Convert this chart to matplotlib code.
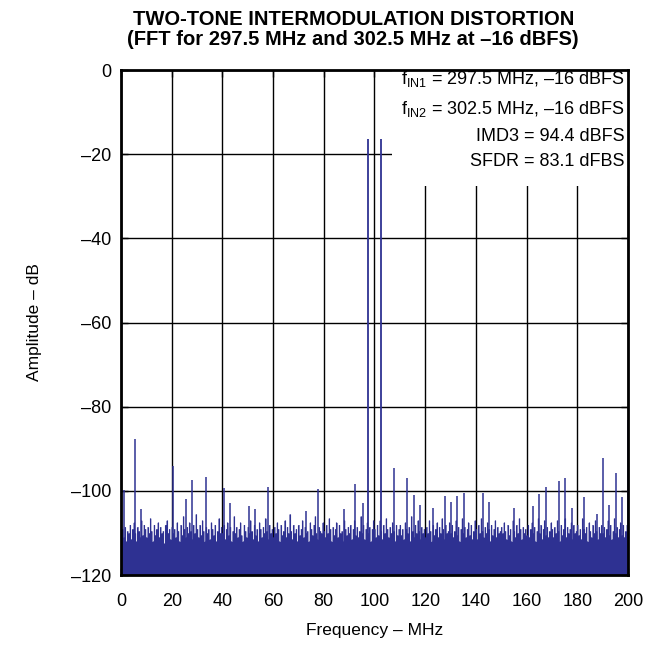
import numpy as np
import matplotlib.pyplot as plt
from matplotlib.patches import Rectangle

plt.rcParams['font.family'] = ['Liberation Sans', 'DejaVu Sans']
plt.rcParams['mathtext.fontset'] = 'custom'
plt.rcParams['mathtext.rm'] = 'Liberation Sans'

# FFT noise floor, one value per 0.5 MHz bin (dB)
noise_db = [
    -110.5, -109, -111, -108.5, -112, -109.5, -110, -108, -111.5, -109, -107.5, -110, -112, -108.5, -109.5, -111, -107, -110.5, -108, -109,
    -111, -108.5, -110, -106.5, -109.5, -112, -108, -110.5, -109, -107.5, -111, -108.5, -110, -109.5, -112.5, -108, -107, -110, -109, -111.5,
    -108.5, -110, -109, -111, -107.5, -109.5, -112, -108, -110.5, -106, -109, -111, -108.5, -110, -107.5, -109.5, -111.5, -108, -110, -105.5,
    -109, -111, -108, -110.5, -107, -109.5, -112, -108.5, -110, -109, -111.5, -107.5, -109, -110.5, -108, -112, -109.5, -106.5, -110, -108.5,
    -110, -108, -111.5, -109, -107.5, -110.5, -108.5, -112, -109.5, -106, -110, -108.5, -111, -109, -107.5, -110.5, -112, -108, -109.5, -111,
    -108.5, -110, -107, -109.5, -111.5, -108, -110.5, -109, -112, -107.5, -109, -111, -108.5, -110, -106.5, -109.5, -111.5, -108, -110, -109,
    -111, -108.5, -110, -107.5, -109, -112, -108, -110.5, -109.5, -107, -111, -108.5, -110, -105.5, -109.5, -111.5, -108, -110, -109, -112,
    -108, -110.5, -109, -107, -111, -108.5, -110, -109.5, -112, -107.5, -109, -110.5, -108, -106, -110, -111.5, -108.5, -109.5, -110, -107.5,
    -109.5, -111, -108, -110, -106.5, -109, -112, -108.5, -110.5, -109, -107.5, -111, -108, -110, -109.5, -112, -107, -109, -110.5, -108.5,
    -110, -108, -111.5, -109, -107, -110.5, -108.5, -111, -109.5, -106, -110, -108, -111.5, -109, -107.5, -110, -108.5, -112, -109, -107,
    -109, -111, -108, -110.5, -107, -109.5, -111.5, -108, -110, -106.5, -109, -111, -108.5, -110, -107.5, -109.5, -112, -108, -110.5, -109,
    -108, -110.5, -109, -111.5, -107.5, -109, -110, -108.5, -112, -106, -109.5, -111, -108, -110, -107, -109.5, -111.5, -108.5, -110, -109,
    -111, -108.5, -110, -107, -109.5, -112, -108, -110.5, -109, -107.5, -111, -108.5, -110, -106.5, -109, -111.5, -108, -110, -109.5, -107.5,
    -110, -108, -111, -109.5, -107, -110.5, -108.5, -112, -109, -106.5, -110, -108.5, -111, -109, -107.5, -110.5, -108, -111.5, -109.5, -107,
    -109, -111.5, -108, -110, -106.5, -109.5, -111, -108.5, -110, -107.5, -109, -112, -108, -110.5, -109, -107, -111, -108.5, -110, -109.5,
    -108.5, -110, -107.5, -109.5, -111.5, -108, -110.5, -109, -112, -107, -109.5, -111, -108, -110, -106.5, -109, -111.5, -108.5, -110, -109,
    -110.5, -108, -111, -109, -107.5, -110, -108.5, -112, -109.5, -106.5, -110, -108, -111.5, -109, -107, -110.5, -108.5, -111, -109.5, -107.5,
    -109, -111, -108.5, -110, -107, -109.5, -112, -108, -110.5, -109, -106.5, -111, -108.5, -110, -109, -107.5, -111.5, -108, -110, -109.5,
    -108, -110.5, -109, -111.5, -106.5, -109, -110, -108.5, -112, -107.5, -109.5, -111, -108, -110, -107, -109.5, -111.5, -108.5, -110, -108,
    -110, -108.5, -111, -109, -107, -110.5, -108, -111.5, -109.5, -106.5, -110, -108.5, -111, -109, -107.5, -110.5, -108, -111, -109.5, -108,
]
noise_freq = np.arange(len(noise_db)) * 0.5

# spurs and harmonics (MHz, dB)
spur_freq = [1.2, 5.5, 8, 20.5, 25.6, 28, 33.4, 40.6, 43, 50.5, 53, 57.9, 72.9, 77.8,
             88.1, 92.5, 95.5, 107.5, 112.8, 115.6, 118, 123, 127.7, 130.3, 132.7,
             135.2, 142.7, 145.2, 154.9, 162.6, 165, 167.7, 172.8, 175.1, 177.8,
             182.5, 187.8, 190, 192.5, 195.1, 197.5, 200]
spur_db = [-99.8, -87.7, -104.3, -94.1, -101.9, -97.4, -96.7, -99.3, -103, -103.5,
           -104.3, -99.1, -104.8, -99.5, -104.3, -98.3, -102.9, -94.6, -97, -101,
           -103.4, -104, -101.2, -102.6, -101.2, -100.5, -100.5, -102.6, -104,
           -103.5, -100.8, -99.1, -97.6, -97, -104, -101.4, -105.5, -92.1, -103.4,
           -95.8, -101.4, -83.2]

# the two input tones (aliased)
tone_freq = [97.5, 102.5]
tone_db = [-16.5, -16.5]

info_lines = [
    r'f$_{\mathregular{IN1}}$ = 297.5 MHz, –16 dBFS',
    r'f$_{\mathregular{IN2}}$ = 302.5 MHz, –16 dBFS',
    'IMD3 = 94.4 dBFS',
    'SFDR = 83.1 dFBS',
]

color = '#2E3192'

fig = plt.figure(figsize=(6.53, 6.46), dpi=100)
ax = fig.add_axes([0.1853, 0.1099, 0.7764, 0.7817])

ax.fill_between(noise_freq, -120, noise_db, step='mid', color=color, lw=0, zorder=2)
ax.vlines(noise_freq, -120, noise_db, color=color, lw=0.8, zorder=2)
ax.vlines(spur_freq, -120, spur_db, color=color, lw=1.1, zorder=2)
ax.vlines(tone_freq, -120, tone_db, color=color, lw=1.3, zorder=2)

ax.set_xlim(0, 200)
ax.set_ylim(-120, 0)
ax.set_xticks(range(0, 201, 20))
ax.set_yticks(range(-120, 1, 20))
ax.set_yticklabels([str(v).replace('-', '–') for v in range(-120, 1, 20)])
ax.grid(True, color='black', lw=1.0, zorder=1)
ax.set_axisbelow(True)
ax.tick_params(direction='in', top=True, right=True, length=5, width=1.0,
               labelsize=13, pad=7, colors='black')
ax.tick_params(axis='x', pad=13)
for s in ax.spines.values():
    s.set_linewidth(2.0)
    s.set_zorder(5)

# white panel behind the annotation
ax.add_patch(Rectangle((0.535, 0.77), 0.465, 0.23, transform=ax.transAxes,
                       facecolor='white', edgecolor='none', zorder=1.5))
ypos = [0.972, 0.913, 0.859, 0.810]
for t, y in zip(info_lines, ypos):
    ax.text(0.994, y, t, transform=ax.transAxes, ha='right', va='baseline',
            fontsize=13, zorder=3)

ax.set_xlabel('Frequency – MHz', fontsize=12.5, labelpad=9)
ax.set_ylabel('Amplitude – dB', fontsize=12.5, labelpad=21)
ax.set_title('TWO-TONE INTERMODULATION DISTORTION\n(FFT for 297.5 MHz and 302.5 MHz at –16 dBFS)',
             fontsize=14.5, fontweight='bold', pad=18, linespacing=1.1, x=0.458)

fig.savefig('out.png', dpi=100)
